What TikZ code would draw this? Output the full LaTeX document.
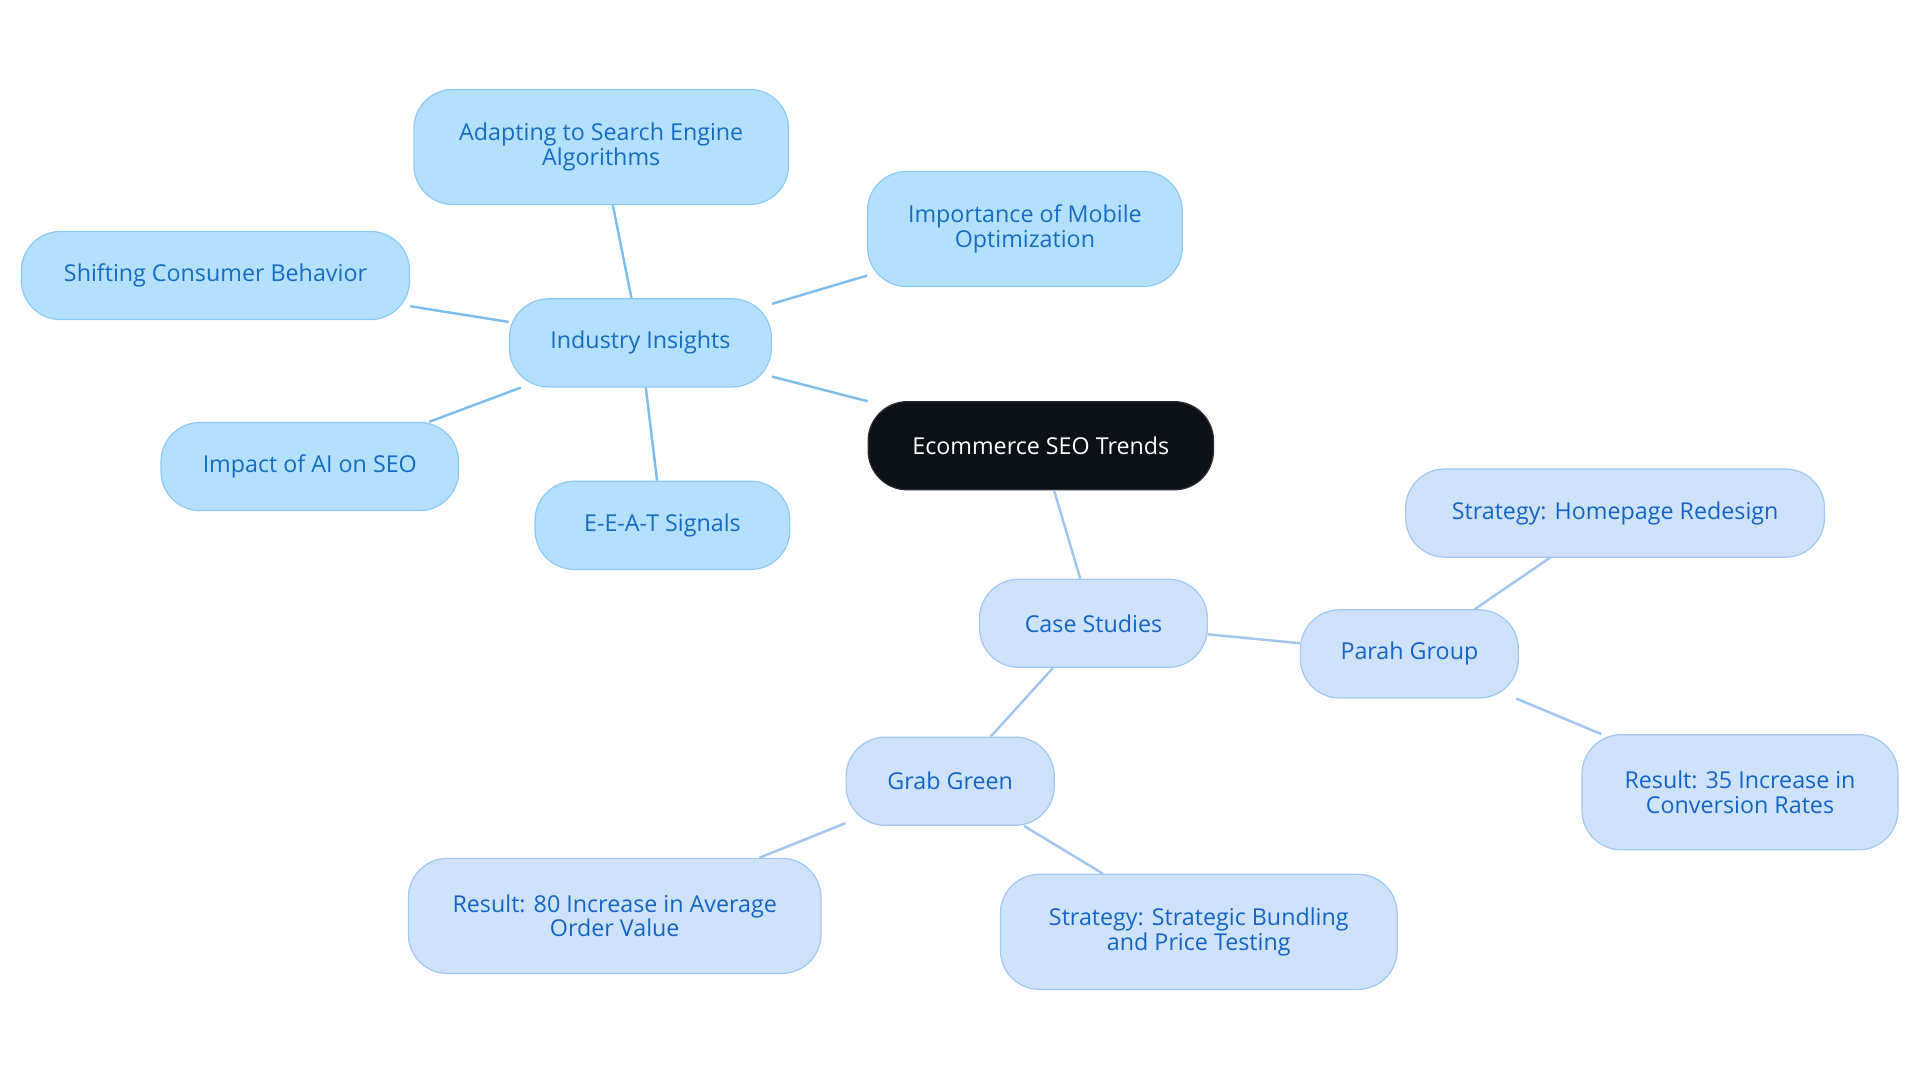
\documentclass[tikz,border=0pt]{standalone}
\usepackage{fontspec}
\setmainfont{Open Sans}
\begin{document}
\begin{tikzpicture}[x=1pt,y=-1pt,
 base/.style={rounded corners=32pt,line width=1pt,align=center,font=\fontsize{19}{20}\selectfont,inner sep=0pt},
 ind/.style={base,fill=blue!0!cyan!0!white,fill={rgb,255:red,180;green,224;blue,253},draw={rgb,255:red,140;green,202;blue,245},text={rgb,255:red,20;green,108;blue,196}},
 cs/.style={base,fill={rgb,255:red,206;green,227;blue,250},draw={rgb,255:red,160;green,200;blue,242},text={rgb,255:red,20;green,100;blue,200}},
 rootst/.style={base,fill={rgb,255:red,12;green,17;blue,24},draw={rgb,255:red,40;green,45;blue,55},text=white},
 ie/.style={draw={rgb,255:red,125;green,189;blue,238},line width=2pt},
 ce/.style={draw={rgb,255:red,160;green,198;blue,240},line width=2pt}]
\useasboundingbox (0,0) rectangle (1568,884);
\node[rootst,minimum width=282pt,minimum height=72pt] (root) at (850,364) {Ecommerce SEO Trends};
\node[ind,minimum width=214pt,minimum height=72pt] (ii) at (523,280) {Industry Insights};
\node[ind,minimum width=306pt,minimum height=94pt] (ad) at (491,120) {Adapting to Search Engine\\Algorithms};
\node[ind,minimum width=257pt,minimum height=94pt] (im) at (837,187) {Importance of Mobile\\Optimization};
\node[ind,minimum width=317pt,minimum height=72pt] (sh) at (176,225) {Shifting Consumer Behavior};
\node[ind,minimum width=243pt,minimum height=72pt] (ai) at (253,381) {Impact of AI on SEO};
\node[ind,minimum width=208pt,minimum height=72pt] (ee) at (541,429) {E-E-A-T Signals};
\node[cs,minimum width=186pt,minimum height=72pt] (cs) at (893,509) {Case Studies};
\node[cs,minimum width=178pt,minimum height=72pt] (pg) at (1151,534) {Parah Group};
\node[cs,minimum width=342pt,minimum height=72pt] (sp) at (1319,419) {Strategy: Homepage Redesign};
\node[cs,minimum width=258pt,minimum height=94pt] (rp) at (1421,647) {Result: 35 Increase in\\Conversion Rates};
\node[cs,minimum width=170pt,minimum height=72pt] (gg) at (776,638) {Grab Green};
\node[cs,minimum width=337pt,minimum height=94pt] (rg) at (502,748) {Result: 80 Increase in Average\\Order Value};
\node[cs,minimum width=324pt,minimum height=94pt] (sg) at (979,761) {Strategy: Strategic Bundling\\and Price Testing};
\begin{scope}[on background layer/.style={}]
\end{scope}
\draw[ie] (root) -- (ii);
\draw[ie] (ii) -- (ad);
\draw[ie] (ii) -- (im);
\draw[ie] (ii) -- (sh);
\draw[ie] (ii) -- (ai);
\draw[ie] (ii) -- (ee);
\draw[ce] (root) -- (cs);
\draw[ce] (cs) -- (pg);
\draw[ce] (pg) -- (sp);
\draw[ce] (pg) -- (rp);
\draw[ce] (cs) -- (gg);
\draw[ce] (gg) -- (rg);
\draw[ce] (gg) -- (sg);
\end{tikzpicture}
\end{document}
